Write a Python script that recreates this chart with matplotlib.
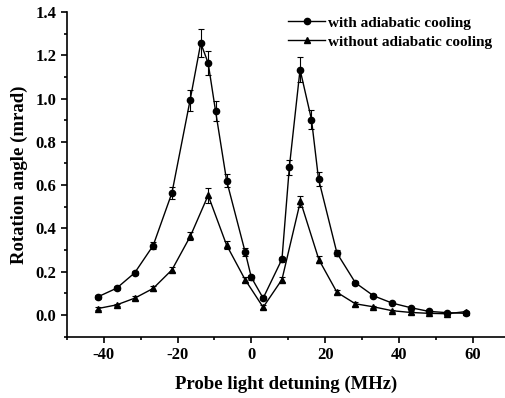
import matplotlib
matplotlib.use('Agg')
import matplotlib.pyplot as plt
from matplotlib.lines import Line2D
from matplotlib.ticker import MultipleLocator

plt.rcParams['font.family'] = ['Liberation Serif', 'DejaVu Serif']
plt.rcParams['font.weight'] = 'bold'
plt.rcParams['axes.unicode_minus'] = False

# with adiabatic cooling
x_with = [-41.6, -36.5, -31.6, -26.6, -21.5, -16.6, -13.7, -11.7, -9.7, -6.7, -1.7, 0.0, 3.2,
          8.3, 10.3, 13.2, 16.3, 18.2, 23.2, 28.2, 33.1, 38.2, 43.2, 48.1, 53.1, 58.1]
y_with = [0.084, 0.124, 0.195, 0.321, 0.565, 0.992, 1.256, 1.164, 0.943, 0.621, 0.293, 0.174, 0.078,
          0.258, 0.683, 1.134, 0.903, 0.629, 0.286, 0.149, 0.089, 0.055, 0.034, 0.017, 0.011, 0.008]
err_with = [0.008, 0.008, 0.010, 0.015, 0.028, 0.049, 0.063, 0.057, 0.047, 0.031, 0.018, 0.012, 0.010,
            0.012, 0.034, 0.058, 0.045, 0.032, 0.015, 0.008, 0.006, 0.005, 0.005, 0.005, 0.005, 0.005]

# without adiabatic cooling
x_without = [-41.6, -36.5, -31.6, -26.6, -21.5, -16.5, -11.7, -6.7, -1.7, 3.2, 8.3,
             13.3, 18.3, 23.2, 28.2, 33.1, 38.2, 43.2, 48.1, 53.1, 58.1]
y_without = [0.030, 0.047, 0.078, 0.123, 0.209, 0.365, 0.553, 0.323, 0.164, 0.036, 0.164,
             0.526, 0.256, 0.105, 0.052, 0.038, 0.020, 0.012, 0.008, 0.006, 0.016]
err_without = [0.006, 0.006, 0.008, 0.010, 0.012, 0.018, 0.034, 0.018, 0.012, 0.010, 0.012,
               0.026, 0.015, 0.010, 0.008, 0.006, 0.005, 0.005, 0.005, 0.005, 0.005]

fig = plt.figure(figsize=(5.06, 3.98), dpi=100)
ax = fig.add_axes([0.132, 0.154, 0.868, 0.816])

ax.errorbar(x_with, y_with, yerr=err_with, color='black', marker='o', markersize=4.5,
            linewidth=1.0, elinewidth=0.8, capsize=2.5, capthick=0.8)
ax.errorbar(x_without, y_without, yerr=err_without, color='black', marker='^', markersize=5,
            linewidth=1.0, elinewidth=0.8, capsize=2.5, capthick=0.8)

ax.set_xlim(-50, 69)
ax.set_ylim(-0.1, 1.4)
ax.xaxis.set_minor_locator(MultipleLocator(10))
ax.yaxis.set_minor_locator(MultipleLocator(0.1))
ax.set_xticks([-40, -20, 0, 20, 40, 60])
ax.set_yticks([0.0, 0.2, 0.4, 0.6, 0.8, 1.0, 1.2, 1.4])
ax.yaxis.set_major_formatter(plt.FuncFormatter(lambda v, p: f'{v:.1f}'))

for s in ['top', 'right']:
    ax.spines[s].set_visible(False)
for s in ['left', 'bottom']:
    ax.spines[s].set_linewidth(1.2)
ax.tick_params(which='major', direction='out', length=4, width=1.2, labelsize=12)
ax.tick_params(which='minor', direction='out', length=2.5, width=1.2)

ax.set_xlabel('Probe light detuning (MHz)', fontsize=13.5, fontweight='bold', labelpad=9)
ax.set_ylabel('Rotation angle (mrad)', fontsize=13.5, fontweight='bold', labelpad=5)

# legend handles without error bars
handles = [Line2D([], [], color='black', marker='o', markersize=4.5, linewidth=1.0),
           Line2D([], [], color='black', marker='^', markersize=5, linewidth=1.0)]
labels = ['with adiabatic cooling', 'without adiabatic cooling']
ax.legend(handles, labels, loc='upper right', bbox_to_anchor=(1.0, 1.03), frameon=False,
          handlelength=2.4, handletextpad=0.2, labelspacing=0.35,
          prop={'weight': 'bold', 'size': 11})

fig.savefig('out.png', dpi=100)
